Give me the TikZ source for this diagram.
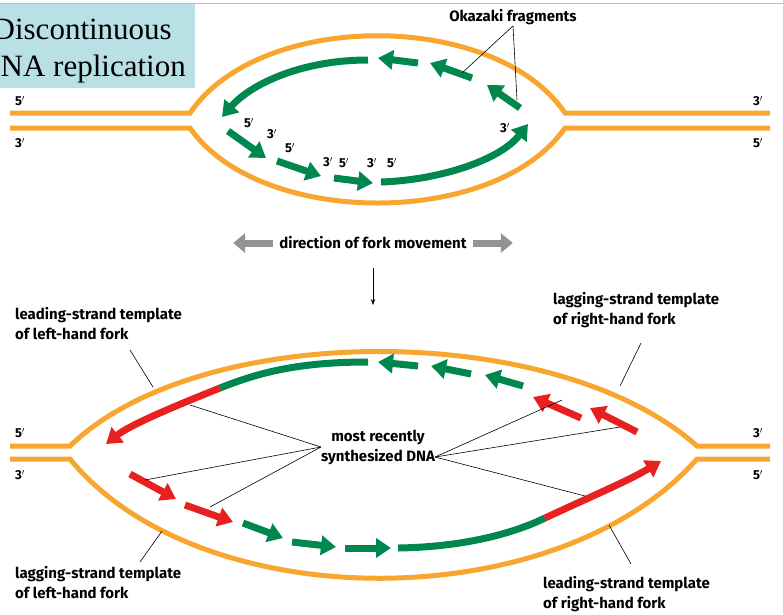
\documentclass[tikz,border=0pt]{standalone}
\usepackage{fontspec}
\setmainfont{Fira Sans}
\newfontfamily\titlefont{Liberation Serif}
\usetikzlibrary{arrows.meta}
\definecolor{dnaorange}{HTML}{F8A630}
\definecolor{dnagreen}{HTML}{00874D}
\definecolor{dnared}{HTML}{E8201F}
\definecolor{titleblue}{HTML}{B9E1E5}
\tikzset{
  strand/.style={draw=dnaorange, line width=5pt},
  frag/.style={line width=7pt, -{Triangle[width=19pt,length=15pt]}},
  grn/.style={frag, draw=dnagreen},
  rd/.style={frag, draw=dnared},
  prime/.style={font=\bfseries\fontsize{13}{14}\selectfont, inner sep=0pt},
  lab/.style={font=\bfseries\fontsize{15}{20}\selectfont, align=left, inner sep=0pt},
  leader/.style={draw=black, line width=0.6pt},
}
\begin{document}
\begin{tikzpicture}[x=1pt,y=-1pt]
\useasboundingbox (0,0) rectangle (783,614);
\draw[gray!50, line width=0.8pt] (0,3) -- (783,3);

% title box
\fill[titleblue] (0,4) rectangle (195,88);
\node[anchor=east, font=\titlefont\fontsize{31}{34}\selectfont, inner sep=0pt] (title1) at (172,29) {Discontinuous};
\node[anchor=east, font=\titlefont\fontsize{31}{34}\selectfont, inner sep=0pt] (title2) at (186,69) {DNA replication};

% upper bubble
\draw[strand] (10,113) -- (190,113) .. controls (260,10) and (495,10) .. (565,113) -- (770,113);
\draw[strand] (10,128) -- (190,128) .. controls (260,228) and (495,228) .. (565,128) -- (770,128);
\draw[grn] (368,60) .. controls (300,60) and (250,85) .. (222,117);
\draw[grn] (418,63) -- (378,58);
\draw[grn] (472,78) -- (430,63);
\draw[grn] (520,108) -- (487,85);
\draw[grn] (228,131) -- (266,158);
\draw[grn] (277,161) -- (321,176);
\draw[grn] (334,178) -- (373,183);
\draw[grn] (381,182) .. controls (440,180) and (500,160) .. (528,124);
\node[prime] (u5l) at (20,101) {5$'$};
\node[prime] (u3l) at (20,143) {3$'$};
\node[prime] (u3r) at (758,101) {3$'$};
\node[prime] (u5r) at (758,143) {5$'$};
\node[prime] at (249,123) {5$'$};
\node[prime] at (272,134) {3$'$};
\node[prime] at (290,148) {5$'$};
\node[prime] at (328,162) {3$'$};
\node[prime] at (344,163) {5$'$};
\node[prime] at (372,163) {3$'$};
\node[prime] at (392,163) {5$'$};
\node[prime] at (505,128) {3$'$};
\node[lab] (oka) at (513,17) {Okazaki fragments};
\coordinate (okaA) at (462,73);
\coordinate (okaB) at (517,100);
\draw[leader] (oka.south) ++(0,1) -- (okaA);
\draw[leader] (oka.south) ++(0,1) -- (okaB);

% fork movement
\node[lab] (dir) at (373,243) {direction of fork movement};
\draw[line width=7pt, draw=gray!85, -{Triangle[width=19pt,length=12pt]}] (dir.west) ++(-6,0) -- ++(-40,0);
\draw[line width=7pt, draw=gray!85, -{Triangle[width=19pt,length=12pt]}] (dir.east) ++(6,0) -- ++(40,0);
\coordinate (down) at (373,305);
\draw[line width=0.8pt, -{Stealth[length=6pt]}] (373,268) -- (down);

% lower bubble
\draw[strand] (10,446) -- (70,446) .. controls (200,320) and (556,320) .. (697,446) -- (770,446);
\draw[strand] (10,459) -- (70,459) .. controls (200,618) and (556,618) .. (697,459) -- (770,459);
\draw[line width=7pt, draw=dnagreen] (368,362) .. controls (300,362) and (260,372) .. (220,388);
\draw[rd] (220,388) .. controls (170,408) and (130,425) .. (106,444);
\draw[grn] (418,366) -- (378,362);
\draw[grn] (471,374) -- (431,366);
\draw[grn] (523,386) -- (485,375);
\draw[rd] (581,418) -- (533,397);
\draw[rd] (637,432) -- (590,408);
\draw[rd] (130,474) -- (176,499);
\draw[rd] (185,505) -- (233,522);
\draw[grn] (243,523) -- (283,538);
\draw[grn] (292,542) -- (336,547);
\draw[grn] (345,548) -- (391,548);
\draw[line width=7pt, draw=dnagreen] (398,548) .. controls (460,547) and (510,535) .. (545,518);
\draw[rd] (545,518) .. controls (590,497) and (630,480) .. (661,461);
\node[prime] (l5l) at (20,433) {5$'$};
\node[prime] (l3l) at (20,475) {3$'$};
\node[prime] (l3r) at (758,433) {3$'$};
\node[prime] (l5r) at (758,475) {5$'$};

\node[lab, align=center] (recent) at (378,447) {most recently\\synthesized DNA};
\coordinate (rA) at (190,405);
\coordinate (rB) at (145,480);
\coordinate (rC) at (210,507);
\coordinate (rD) at (562,400);
\coordinate (rE) at (620,427);
\coordinate (rF) at (585,496);
\foreach \c in {rA,rB,rC} \draw[leader] (recent.west) -- (\c);
\foreach \c in {rD,rE,rF} \draw[leader] ([yshift=-10pt]recent.east) -- (\c);

\node[lab, anchor=north west] (leadL) at (15,307) {leading-strand template\\of left-hand fork};
\node[lab, anchor=north west] (lagR) at (553,292) {lagging-strand template\\of right-hand fork};
\node[lab, anchor=north west] (lagL) at (15,566) {lagging-strand template\\of left-hand fork};
\node[lab, anchor=north west] (leadR) at (543,576) {leading-strand template\\of right-hand fork};
\coordinate (tLL) at (153,387);
\coordinate (tLR) at (620,386);
\coordinate (tGL) at (162,531);
\coordinate (tGR) at (609,525);
\draw[leader] (130,350) -- (tLL);
\draw[leader] (641,343) -- (tLR);
\draw[leader] (140,562) -- (tGL);
\draw[leader] (631,564) -- (tGR);
\end{tikzpicture}
\end{document}
